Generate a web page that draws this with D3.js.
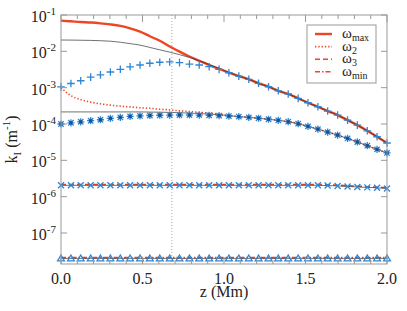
<!DOCTYPE html>
<html>
<head>
<meta charset="utf-8">
<script src="https://cdn.jsdelivr.net/npm/d3@7"></script>
</head>
<body style="margin:0">
<div id="chart"></div>
<script>
// k_I against height, four frequencies

// height grid of the marker points (Mm)
var z = [0, 0.061, 0.121, 0.182, 0.242, 0.303, 0.364, 0.424, 0.485, 0.545,
	0.606, 0.667, 0.727, 0.788, 0.848, 0.909, 0.970, 1.030, 1.091, 1.152,
	1.212, 1.273, 1.333, 1.394, 1.455, 1.515, 1.576, 1.636, 1.697, 1.758,
	1.818, 1.879, 1.939, 2.0];

// red curves
var omegaMax = [0.070, 0.067, 0.064, 0.062, 0.059, 0.055, 0.050, 0.043, 0.035, 0.026,
	0.0195, 0.0136, 0.0098, 0.0072, 0.0055, 0.0042, 0.0033, 0.0026, 2.08e-3, 1.7e-3,
	1.32e-3, 1.06e-3, 8.2e-4, 6.7e-4, 5.07e-4, 3.84e-4, 2.98e-4, 2.27e-4, 1.76e-4, 1.28e-4,
	9.3e-5, 6.5e-5, 4.45e-5, 3.0e-5];
var omega2 = [1.0e-3, 6.0e-4, 4.7e-4, 4.0e-4, 3.6e-4, 3.3e-4, 3.1e-4, 2.95e-4, 2.8e-4, 2.7e-4,
	2.55e-4, 2.45e-4, 2.3e-4, 2.2e-4, 2.1e-4, 2.0e-4, 1.88e-4, 1.7e-4, 1.6e-4, 1.52e-4,
	1.44e-4, 1.35e-4, 1.26e-4, 1.16e-4, 1.02e-4, 8.6e-5, 7.2e-5, 6.0e-5, 4.94e-5, 4.0e-5,
	3.2e-5, 2.53e-5, 2.0e-5, 1.6e-5];
var omega3 = [2.15e-6, 2.15e-6, 2.15e-6, 2.15e-6, 2.15e-6, 2.15e-6, 2.15e-6, 2.15e-6, 2.15e-6, 2.15e-6,
	2.15e-6, 2.15e-6, 2.15e-6, 2.15e-6, 2.15e-6, 2.15e-6, 2.15e-6, 2.15e-6, 2.15e-6, 2.15e-6,
	2.15e-6, 2.15e-6, 2.15e-6, 2.15e-6, 2.15e-6, 2.15e-6, 2.15e-6, 2.12e-6, 2.06e-6, 2.0e-6,
	1.94e-6, 1.88e-6, 1.82e-6, 1.76e-6];
var omegaMin = [2.1e-8, 2.1e-8, 2.1e-8, 2.1e-8, 2.1e-8, 2.1e-8, 2.1e-8, 2.1e-8, 2.1e-8, 2.1e-8,
	2.1e-8, 2.1e-8, 2.1e-8, 2.1e-8, 2.1e-8, 2.1e-8, 2.1e-8, 2.1e-8, 2.1e-8, 2.1e-8,
	2.1e-8, 2.1e-8, 2.1e-8, 2.1e-8, 2.1e-8, 2.1e-8, 2.1e-8, 2.1e-8, 2.1e-8, 2.1e-8,
	2.1e-8, 2.1e-8, 2.1e-8, 2.1e-8];

// thin black curves
var approxMax = [0.0205, 0.0204, 0.0202, 0.0200, 0.0196, 0.0190, 0.0178, 0.0163, 0.0148, 0.0128,
	0.0110, 0.0095, 0.0081, 0.0068, 0.0055, 0.0043, 0.0034, 0.0026, 2.08e-3, 1.7e-3,
	1.32e-3, 1.06e-3, 8.2e-4, 6.7e-4, 5.07e-4, 3.84e-4, 2.98e-4, 2.27e-4, 1.76e-4, 1.28e-4,
	9.3e-5, 6.5e-5, 4.45e-5, 3.0e-5];
var approx2 = [2.15e-4, 2.15e-4, 2.15e-4, 2.15e-4, 2.15e-4, 2.15e-4, 2.15e-4, 2.15e-4, 2.15e-4, 2.13e-4,
	2.11e-4, 2.08e-4, 2.04e-4, 1.99e-4, 1.93e-4, 1.87e-4, 1.8e-4, 1.7e-4, 1.6e-4, 1.52e-4,
	1.44e-4, 1.35e-4, 1.26e-4, 1.16e-4, 1.02e-4, 8.6e-5, 7.2e-5, 6.0e-5, 4.94e-5, 4.0e-5,
	3.2e-5, 2.53e-5, 2.0e-5, 1.6e-5];

// blue markers
var plusVals = [1.05e-3, 1.3e-3, 1.55e-3, 1.95e-3, 2.25e-3, 2.7e-3, 3.2e-3, 3.75e-3, 4.2e-3, 4.7e-3,
	5.0e-3, 5.1e-3, 4.9e-3, 4.47e-3, 4.2e-3, 3.77e-3, 3.19e-3, 2.57e-3, 2.08e-3, 1.7e-3,
	1.32e-3, 1.06e-3, 8.2e-4, 6.7e-4, 5.07e-4, 3.84e-4, 2.98e-4, 2.27e-4, 1.76e-4, 1.28e-4,
	9.3e-5, 6.5e-5, 4.45e-5, 3.0e-5];
var starVals = [1.0e-4, 1.08e-4, 1.15e-4, 1.23e-4, 1.31e-4, 1.43e-4, 1.52e-4, 1.62e-4, 1.67e-4, 1.71e-4,
	1.74e-4, 1.76e-4, 1.77e-4, 1.77e-4, 1.76e-4, 1.74e-4, 1.70e-4, 1.65e-4, 1.6e-4, 1.52e-4,
	1.44e-4, 1.35e-4, 1.26e-4, 1.16e-4, 1.02e-4, 8.6e-5, 7.2e-5, 6.0e-5, 4.94e-5, 4.0e-5,
	3.2e-5, 2.53e-5, 2.0e-5, 1.6e-5];
var timesVals = [2.05e-6, 2.05e-6, 2.05e-6, 2.05e-6, 2.05e-6, 2.05e-6, 2.05e-6, 2.05e-6, 2.05e-6, 2.05e-6,
	2.05e-6, 2.05e-6, 2.05e-6, 2.05e-6, 2.05e-6, 2.05e-6, 2.05e-6, 2.05e-6, 2.05e-6, 2.05e-6,
	2.05e-6, 2.05e-6, 2.05e-6, 2.05e-6, 2.05e-6, 2.05e-6, 2.05e-6, 2.02e-6, 1.97e-6, 1.91e-6,
	1.85e-6, 1.8e-6, 1.75e-6, 1.68e-6];
var triVals = [2.0e-8, 2.0e-8, 2.0e-8, 2.0e-8, 2.0e-8, 2.0e-8, 2.0e-8, 2.0e-8, 2.0e-8, 2.0e-8,
	2.0e-8, 2.0e-8, 2.0e-8, 2.0e-8, 2.0e-8, 2.0e-8, 2.0e-8, 2.0e-8, 2.0e-8, 2.0e-8,
	2.0e-8, 2.0e-8, 2.0e-8, 2.0e-8, 2.0e-8, 2.0e-8, 2.0e-8, 2.0e-8, 2.0e-8, 2.0e-8,
	2.0e-8, 2.0e-8, 2.0e-8, 2.0e-8];

var yDecades = [-1, -2, -3, -4, -5, -6, -7];
var xMajor = [0, 0.5, 1.0, 1.5, 2.0];
var zMark = 0.68;
var legendNames = ['max', '2', '3', 'min'];

var width = 407,
	height = 311,
	margin = {top: 15, right: 20, bottom: 47, left: 61},
	red = '#ee4524',
	blue = '#2f86d4',
	frame = '#999';

var svg = d3.select('#chart').append('svg')
	.attr('width', width)
	.attr('height', height)
	.attr('font-family', 'Liberation Serif');

var x = d3.scaleLinear().domain([0, 2]).range([margin.left, width - margin.right]);
var y = d3.scaleLog().domain([1.4e-8, 0.1]).range([height - margin.bottom, margin.top]);

var x0 = x.range()[0], x1 = x.range()[1], y0 = y.range()[0], y1 = y.range()[1];

// every text carries the serif face itself
function label(sel, size) {
	return sel.append('text')
		.attr('font-family', 'Liberation Serif')
		.style('font-family', function() { return "'Liberation Serif'"; })
		.attr('font-size', size)
		.attr('fill', '#222');
}

// Vertical dotted marker line
svg.append('line')
	.attr('x1', x(zMark)).attr('x2', x(zMark))
	.attr('y1', y1).attr('y2', y0)
	.attr('stroke', '#aaa')
	.attr('stroke-width', 1)
	.attr('stroke-dasharray', '1,2');

var line = d3.line()
	.x(function(d) { return x(d[0]); })
	.y(function(d) { return y(d[1]); })
	.curve(d3.curveMonotoneX);

function pairs(vals) { return vals.map(function(v, i) { return [z[i], v]; }); }

// Red curves
var reds = [
	{vals: omegaMax, width: 2.4, dash: null},
	{vals: omega2, width: 1.6, dash: '1.3,2'},
	{vals: omega3, width: 1.6, dash: '5,3'},
	{vals: omegaMin, width: 1.6, dash: '5,2,1.5,2'}
];
svg.append('g').selectAll('path')
	.data(reds)
	.enter().append('path')
	.attr('d', function(d) { return line(pairs(d.vals)); })
	.attr('fill', 'none')
	.attr('stroke', red)
	.attr('stroke-width', function(d) { return d.width; })
	.attr('stroke-dasharray', function(d) { return d.dash; });

// Thin black curves
svg.append('g').selectAll('path')
	.data([approxMax, approx2, timesVals, triVals])
	.enter().append('path')
	.attr('d', function(d) { return line(pairs(d)); })
	.attr('fill', 'none')
	.attr('stroke', '#333')
	.attr('stroke-width', 0.7);

// Marker shapes
var shapes = {
	plus: function(s) { return 'M' + -s + ',0H' + s + 'M0,' + -s + 'V' + s; },
	times: function(s) { return 'M' + -s + ',' + -s + 'L' + s + ',' + s + 'M' + -s + ',' + s + 'L' + s + ',' + -s; },
	star: function(s) {
		var t = s * 0.75;
		return 'M' + -s + ',0H' + s + 'M0,' + -s + 'V' + s +
			'M' + -t + ',' + -t + 'L' + t + ',' + t + 'M' + -t + ',' + t + 'L' + t + ',' + -t;
	},
	tri: function(s) { return 'M0,' + -s + 'L' + s + ',' + (s * 0.75) + 'L' + -s + ',' + (s * 0.75) + 'Z'; }
};

var markers = [
	{vals: plusVals, shape: 'plus', size: 3.8},
	{vals: starVals, shape: 'star', size: 3.6},
	{vals: timesVals, shape: 'times', size: 3},
	{vals: triVals, shape: 'tri', size: 3.4}
];

markers.forEach(function(m) {
	svg.append('g').selectAll('path')
		.data(pairs(m.vals))
		.enter().append('path')
		.attr('transform', function(d) { return 'translate(' + x(d[0]) + ',' + y(d[1]) + ')'; })
		.attr('d', shapes[m.shape](m.size))
		.attr('fill', 'none')
		.attr('stroke', blue)
		.attr('stroke-width', 1.3);
});

// dark centre of the star markers
svg.append('g').selectAll('rect')
	.data(pairs(starVals))
	.enter().append('rect')
	.attr('x', function(d) { return x(d[0]) - 1.5; })
	.attr('y', function(d) { return y(d[1]) - 1.5; })
	.attr('width', 3).attr('height', 3)
	.attr('fill', '#1d4f86');

// Frame
svg.append('rect')
	.attr('x', x0).attr('y', y1)
	.attr('width', x1 - x0).attr('height', y0 - y1)
	.attr('fill', 'none')
	.attr('stroke', frame)
	.attr('stroke-width', 1);

// Y ticks, both sides, pointing in
var yTicks = svg.append('g');
yDecades.forEach(function(p) {
	var yy = y(Math.pow(10, p));
	yTicks.append('line').attr('x1', x0).attr('x2', x0 + 6).attr('y1', yy).attr('y2', yy)
		.attr('stroke', frame);
	yTicks.append('line').attr('x1', x1).attr('x2', x1 - 6).attr('y1', yy).attr('y2', yy)
		.attr('stroke', frame);
	var t = label(yTicks, 16)
		.attr('x', x0 - 5)
		.attr('y', yy + 7)
		.attr('text-anchor', 'end');
	t.append('tspan').text('10');
	t.append('tspan').attr('dy', -7).attr('font-size', 11).text(p);
});

// X ticks, major and minor, top and bottom
var xTicks = svg.append('g');
d3.range(0, 21).forEach(function(i) {
	var v = i / 10,
		xx = x(v),
		len = i % 5 === 0 ? 7 : 4;
	xTicks.append('line').attr('x1', xx).attr('x2', xx).attr('y1', y0).attr('y2', y0 - len)
		.attr('stroke', frame);
	xTicks.append('line').attr('x1', xx).attr('x2', xx).attr('y1', y1).attr('y2', y1 + len)
		.attr('stroke', frame);
});
xMajor.forEach(function(v) {
	label(xTicks, 16)
		.attr('x', x(v))
		.attr('y', y0 + 20)
		.attr('text-anchor', 'middle')
		.text(v.toFixed(1));
});

// Axis titles
label(svg, 16)
	.attr('x', (x0 + x1) / 2)
	.attr('y', y0 + 33)
	.attr('text-anchor', 'middle')
	.text('z (Mm)');

var yl = label(svg, 16)
	.attr('transform', 'translate(17,' + ((y0 + y1) / 2) + ') rotate(-90)')
	.attr('text-anchor', 'middle');
yl.append('tspan').text('k');
yl.append('tspan').attr('dy', 4).attr('font-size', 11).text('I');
yl.append('tspan').attr('dy', -4).text(' (m');
yl.append('tspan').attr('dy', -7).attr('font-size', 11).text('-1');
yl.append('tspan').attr('dy', 7).text(')');

// Legend
var legend = svg.append('g').attr('transform', 'translate(307,25)');
legend.append('rect')
	.attr('width', 69).attr('height', 58)
	.attr('fill', '#fff')
	.attr('stroke', frame);
reds.forEach(function(d, i) {
	var ly = 9 + i * 12.6;
	legend.append('line')
		.attr('x1', 8).attr('x2', 25).attr('y1', ly).attr('y2', ly)
		.attr('stroke', red)
		.attr('stroke-width', d.width)
		.attr('stroke-dasharray', d.dash);
	var t = label(legend, 15)
		.attr('x', 35)
		.attr('y', ly + 4);
	t.append('tspan').text('ω');
	t.append('tspan').attr('dy', 3).attr('font-size', 10).text(legendNames[i]);
});
</script>
</body>
</html>
